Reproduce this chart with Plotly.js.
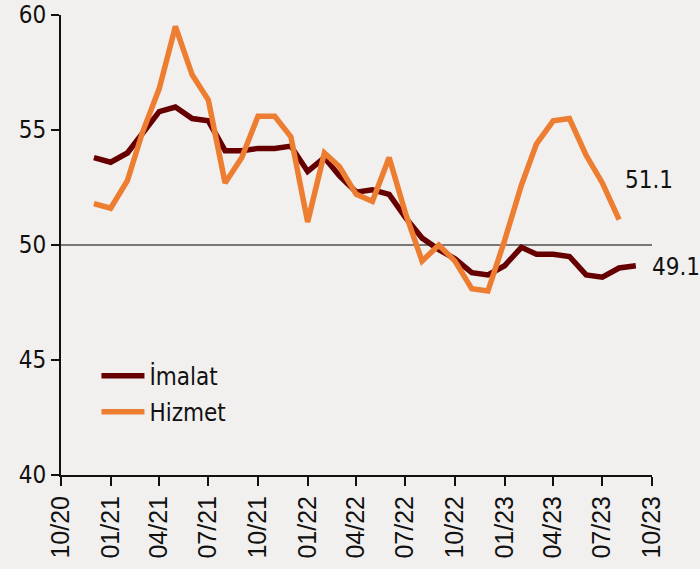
<!DOCTYPE html>
<html>
<head>
<meta charset="utf-8">
<script src="https://cdn.plot.ly/plotly-3.0.1.min.js"></script>
<style>
  html, body { margin: 0; padding: 0; background: #F2F0EE; }
  #chart { width: 700px; height: 569px; }
</style>
</head>
<body>
<div id="chart"></div>
<script>
// Months (first of month) for the series
const months = [
  "2020-12-01","2021-01-01","2021-02-01","2021-03-01","2021-04-01","2021-05-01",
  "2021-06-01","2021-07-01","2021-08-01","2021-09-01","2021-10-01","2021-11-01",
  "2021-12-01","2022-01-01","2022-02-01","2022-03-01","2022-04-01","2022-05-01",
  "2022-06-01","2022-07-01","2022-08-01","2022-09-01","2022-10-01","2022-11-01",
  "2022-12-01","2023-01-01","2023-02-01","2023-03-01","2023-04-01","2023-05-01",
  "2023-06-01","2023-07-01","2023-08-01","2023-09-01"
];
const imalat = [
  53.8, 53.6, 54.0, 54.9, 55.8, 56.0,
  55.5, 55.4, 54.1, 54.1, 54.2, 54.2,
  54.3, 53.2, 53.8, 53.0, 52.3, 52.4,
  52.2, 51.2, 50.3, 49.8, 49.4, 48.8,
  48.7, 49.1, 49.9, 49.6, 49.6, 49.5,
  48.7, 48.6, 49.0, 49.1
];
const hizmet = [
  51.8, 51.6, 52.8, 54.9, 56.8, 59.5,
  57.4, 56.3, 52.7, 53.8, 55.6, 55.6,
  54.7, 51.0, 54.0, 53.4, 52.2, 51.9,
  53.8, 51.4, 49.3, 50.0, 49.3, 48.1,
  48.0, 50.2, 52.6, 54.4, 55.4, 55.5,
  53.9, 52.7, 51.1
];
const tickVals = ["2020-10-01","2021-01-01","2021-04-01","2021-07-01","2021-10-01","2022-01-01",
  "2022-04-01","2022-07-01","2022-10-01","2023-01-01","2023-04-01","2023-07-01","2023-10-01"];
const tickText = ["10/20","01/21","04/21","07/21","10/21","01/22","04/22","07/22","10/22","01/23","04/23","07/23","10/23"];
const names = ["İmalat", "Hizmet"];
const colors = ["#660000", "#ED7D31"];

const labelFont = "DejaVu Sans Condensed, DejaVu Sans, sans-serif";

const traces = [
  { x: months.slice(0, imalat.length), y: imalat, name: names[0], type: "scatter", mode: "lines",
    legendgroup: "a", line: { color: colors[0], width: 5.5 } },
  { x: months.slice(0, hizmet.length), y: hizmet, name: names[1], type: "scatter", mode: "lines",
    legendgroup: "b", line: { color: colors[1], width: 5.5 } }
];

const lastI = imalat.length - 1, lastH = hizmet.length - 1;

const layout = {
  width: 700, height: 569,
  paper_bgcolor: "#F2F0EE", plot_bgcolor: "#F2F0EE",
  margin: { l: 61, r: 48, t: 15, b: 94 },
  showlegend: true,
  legend: {
    x: 0.06, y: 0.176, xanchor: "left", yanchor: "middle",
    bgcolor: "rgba(0,0,0,0)", borderwidth: 0,
    traceorder: "grouped", tracegroupgap: 2,
    font: { family: labelFont, size: 24, color: "#111" },
    itemwidth: 43
  },
  xaxis: {
    type: "date",
    range: ["2020-10-01", "2023-10-01"],
    tickmode: "array", tickvals: tickVals, ticktext: tickText,
    tickangle: -90,
    ticks: "outside", ticklen: 9, tickwidth: 2, tickcolor: "#111",
    showline: true, linecolor: "#111", linewidth: 2,
    showgrid: false, zeroline: false,
    tickfont: { family: "Liberation Sans, Arial, sans-serif", size: 25, color: "#111" }
  },
  yaxis: {
    range: [40, 60], dtick: 5, tick0: 40,
    ticks: "outside", ticklen: 8, tickwidth: 2, tickcolor: "#111",
    showline: true, linecolor: "#111", linewidth: 2,
    showgrid: false, zeroline: false,
    tickfont: { family: labelFont, size: 24, color: "#111" }
  },
  shapes: [
    { type: "line", xref: "paper", x0: 0, x1: 1, yref: "y", y0: 50, y1: 50,
      line: { color: "#000", width: 1.2 }, layer: "below" }
  ],
  annotations: [
    { x: months[lastH], y: hizmet[lastH], xref: "x", yref: "y", text: hizmet[lastH].toFixed(1),
      showarrow: false, xanchor: "left", yanchor: "middle", xshift: 4, yshift: 40,
      font: { family: labelFont, size: 24, color: "#111" } },
    { x: months[lastI], y: imalat[lastI], xref: "x", yref: "y", text: imalat[lastI].toFixed(1),
      showarrow: false, xanchor: "left", yanchor: "middle", xshift: 14, yshift: -1,
      font: { family: labelFont, size: 24, color: "#111" } }
  ]
};

Plotly.newPlot("chart", traces, layout, { displayModeBar: false, staticPlot: true });
</script>
</body>
</html>
